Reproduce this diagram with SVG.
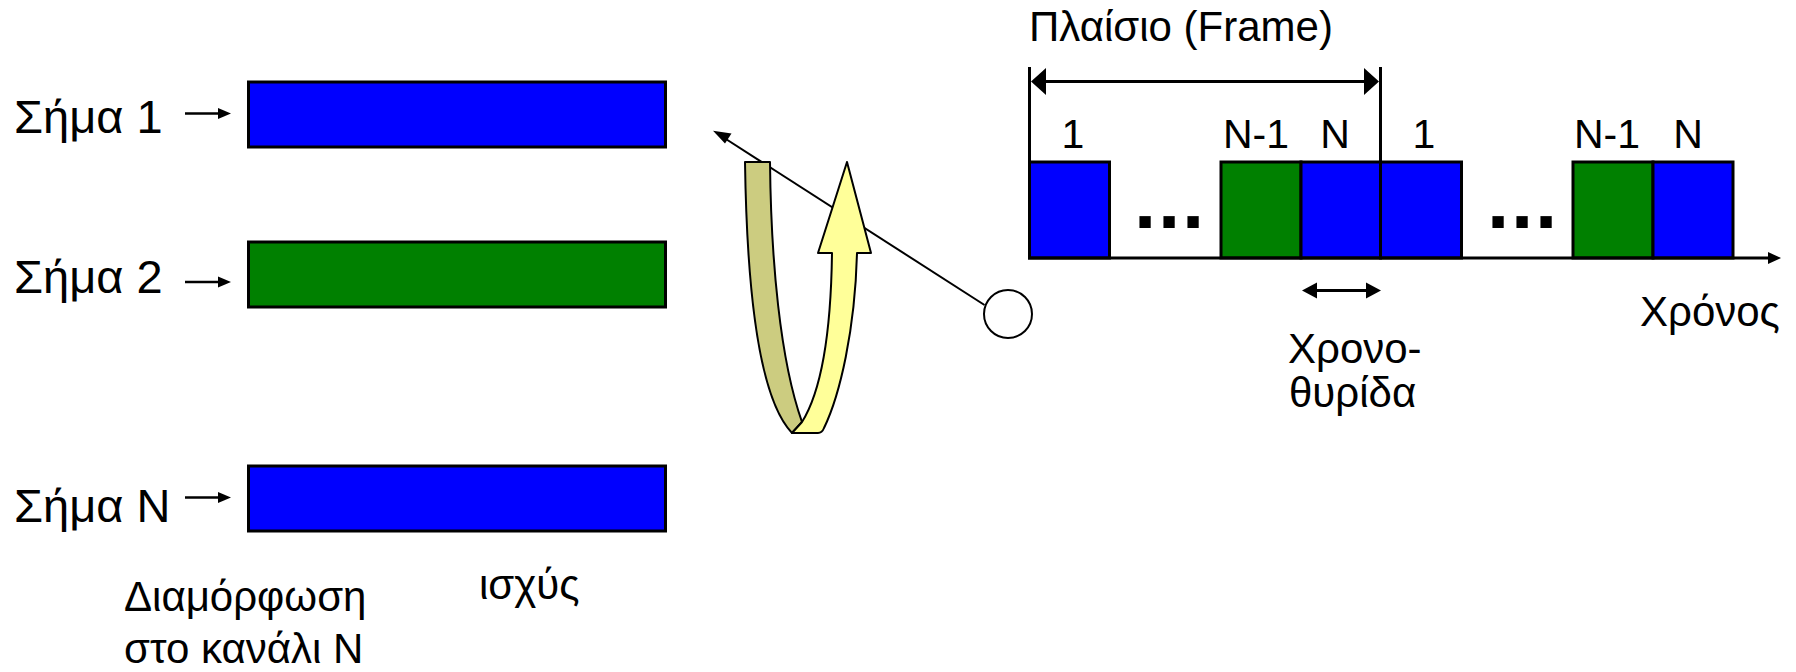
<svg xmlns="http://www.w3.org/2000/svg" width="1796" height="672" viewBox="0 0 1796 672">
  <defs>
    <style>
      text { font-family: "Liberation Sans", Arial, sans-serif; fill: #000; }
      .sig { font-size: 47px; }
      .lbl { font-size: 42px; }
      .slot { font-size: 41px; }
      .dots { font-size: 80px; font-weight: bold; letter-spacing: 1.8px; }
      .blue { fill: #0000FF; stroke: #000; stroke-width: 3; }
      .green { fill: #008000; stroke: #000; stroke-width: 3; }
      .ln3 { stroke: #000; stroke-width: 3; fill: none; }
    </style>
    <path id="head-small" d="M0,0 L-13,-5.5 L-13,5.5 Z" fill="#000"/>
  </defs>

  <!-- left: channels with their power bars -->
  <g id="signal1">
    <text class="sig" x="14" y="133">Σήμα 1</text>
    <rect class="blue" x="248.5" y="82" width="417" height="65"/>
  </g>
  <g id="signal2">
    <text class="sig" x="14" y="293">Σήμα 2</text>
    <rect class="green" x="248.5" y="242" width="417" height="65"/>
  </g>
  <g id="signalN">
    <text class="sig" x="14" y="522">Σήμα N</text>
    <rect class="blue" x="248.5" y="466" width="417" height="65"/>
  </g>
  <g id="caption-mod">
    <text class="lbl" x="124">
      <tspan x="124" y="611">Διαμόρφωση</tspan>
      <tspan x="124" y="663">στο κανάλι Ν</tspan>
    </text>
  </g>
  <g id="caption-power">
    <text class="lbl" x="479" y="599" font-size="41">ισχύς</text>
  </g>

  <g id="connectors">
    <line x1="185" y1="113.5" x2="220" y2="113.5" stroke="#000" stroke-width="2.5"/>
    <use href="#head-small" x="231" y="113.5"/>
    <line x1="185" y1="282" x2="220" y2="282" stroke="#000" stroke-width="2.5"/>
    <use href="#head-small" x="231" y="282"/>
    <line x1="185" y1="497.5" x2="220" y2="497.5" stroke="#000" stroke-width="2.5"/>
    <use href="#head-small" x="231" y="497.5"/>
    <!-- pointer from the circle back to the channel bars -->
    <line x1="984.5" y1="305" x2="722" y2="136.5" stroke="#000" stroke-width="2"/>
    <path d="M713,130.7 L731.5,133.5 L725,143.5 Z" fill="#000"/>
  </g>

  <!-- rotating U-turn arrow -->
  <g id="uturn" stroke="#000" stroke-width="2" stroke-linejoin="round">
    <path d="M745,162 L770,162 C771,260 780,360 802,422 L792,433 C760,400 747,300 745,162 Z" fill="#CCCC80"/>
    <path d="M792,433 L818,433 Q822,433 824,428 C840,395 855,330 857,253 L871,253 L847,162 L818,253 L832,253 C831,330 822,390 802,422 Z" fill="#FFFF99"/>
  </g>

  <g id="selector">
    <circle cx="1008" cy="314" r="24" fill="#fff" stroke="#000" stroke-width="2"/>
  </g>

  <!-- right: TDMA frame on the time axis -->
  <g id="frame-title">
    <text class="lbl" x="1029" y="41" font-size="43">Πλαίσιο (Frame)</text>
  </g>
  <g id="frame-span">
    <line class="ln3" x1="1029.5" y1="67" x2="1029.5" y2="162"/>
    <line class="ln3" x1="1380.5" y1="67" x2="1380.5" y2="162"/>
    <line x1="1044" y1="81.5" x2="1366" y2="81.5" stroke="#000" stroke-width="3"/>
    <path d="M1031,81.5 L1046,68 L1046,95 Z" fill="#000"/>
    <path d="M1379,81.5 L1364,68 L1364,95 Z" fill="#000"/>
  </g>

  <g id="frame1">
    <rect class="blue" x="1029.5" y="162" width="80" height="96"/>
    <text class="dots" x="1134" y="228">...</text>
    <rect class="green" x="1221" y="162" width="80" height="96"/>
    <rect class="blue" x="1301" y="162" width="79.5" height="96"/>
    <text class="slot" x="1073" y="148" text-anchor="middle">1</text>
    <text class="slot" x="1256" y="148" text-anchor="middle">N-1</text>
    <text class="slot" x="1335" y="148" text-anchor="middle">N</text>
  </g>
  <g id="frame2">
    <rect class="blue" x="1380.5" y="162" width="81" height="96"/>
    <text class="dots" x="1487" y="228">...</text>
    <rect class="green" x="1573" y="162" width="80" height="96"/>
    <rect class="blue" x="1653" y="162" width="80" height="96"/>
    <text class="slot" x="1424" y="148" text-anchor="middle">1</text>
    <text class="slot" x="1607" y="148" text-anchor="middle">N-1</text>
    <text class="slot" x="1688" y="148" text-anchor="middle">N</text>
  </g>

  <g id="time-axis">
    <line x1="1028" y1="258" x2="1770" y2="258" stroke="#000" stroke-width="3"/>
    <path d="M1781,258 L1768,252 L1768,264 Z" fill="#000"/>
    <text class="lbl" x="1640" y="326">Χρόνος</text>
  </g>

  <g id="slot-width">
    <line x1="1314" y1="290.5" x2="1369" y2="290.5" stroke="#000" stroke-width="3"/>
    <path d="M1302,290.5 L1317,282.5 L1317,298.5 Z" fill="#000"/>
    <path d="M1381,290.5 L1366,282.5 L1366,298.5 Z" fill="#000"/>
    <text class="lbl" font-size="43">
      <tspan x="1288" y="363">Χρονο-</tspan>
      <tspan x="1289" y="407">θυρίδα</tspan>
    </text>
  </g>
</svg>
